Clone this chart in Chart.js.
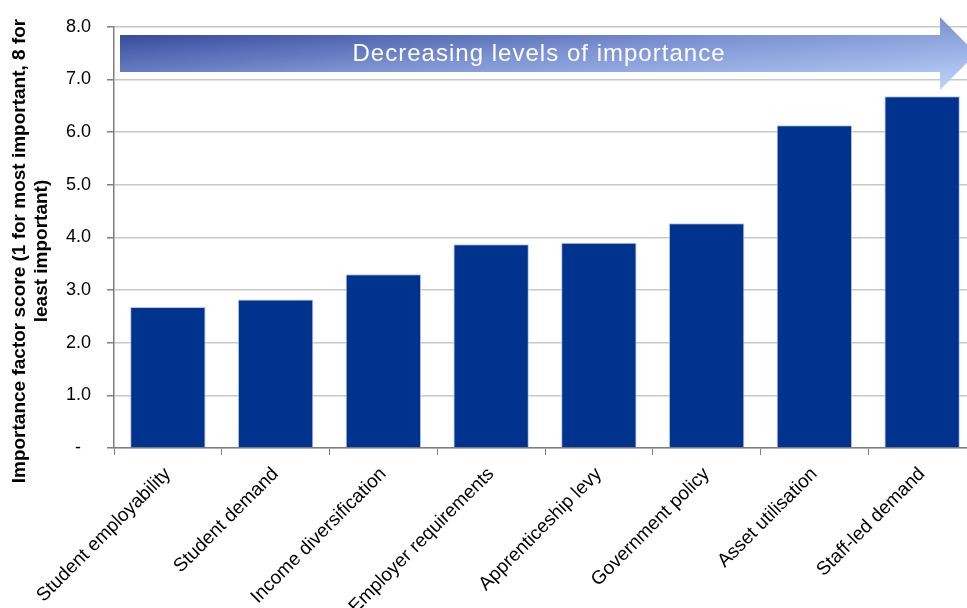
<!DOCTYPE html>
<html>
<head>
<meta charset="utf-8">
<script src="https://cdn.jsdelivr.net/npm/chart.js@4"></script>
<style>
  html, body { margin: 0; padding: 0; background: #fff; overflow: hidden; }
  #wrap { position: absolute; left: 0; top: 0; width: 980px; height: 608px; }
</style>
</head>
<body>
<div id="wrap"><canvas id="c" width="980" height="608"></canvas></div>
<script>
const categories = ['Student employability', 'Student demand', 'Income diversification', 'Employer requirements', 'Apprenticeship levy', 'Government policy', 'Asset utilisation', 'Staff-led demand'];
const scores = [2.68, 2.82, 3.30, 3.87, 3.90, 4.27, 6.13, 6.68];
const yTickLabels = ['-  ', '1.0', '2.0', '3.0', '4.0', '5.0', '6.0', '7.0', '8.0'];
const yTitle = ['Importance factor score (1 for most important, 8 for', 'least important)'];
const arrowText = 'Decreasing levels of importance';

const yTitlePlugin = {
  id: 'yTitle',
  afterDraw(chart) {
    const ctx = chart.ctx;
    ctx.save();
    ctx.translate(20, 251);
    ctx.rotate(-Math.PI / 2);
    ctx.font = 'bold 19px "Liberation Sans", Arial, sans-serif';
    ctx.fillStyle = '#000';
    ctx.textAlign = 'center';
    ctx.textBaseline = 'middle';
    yTitle.forEach((line, i) => ctx.fillText(line, 0, i * 22));
    ctx.restore();
  }
};

const arrowPlugin = {
  id: 'arrow',
  afterDraw(chart) {
    const ctx = chart.ctx;
    const x0 = 120, x1 = 940, tip = 976, top = 35, bot = 72, hTop = 17, hBot = 90;
    const W = tip - x0, H = hBot - hTop;
    const k = 2 / (1 / (W * W) + 1 / (H * H));
    const g = ctx.createLinearGradient(x0, hTop, x0 + k / W, hTop + k / H);
    g.addColorStop(0, '#1f358a');
    g.addColorStop(0.5, '#7d93d3');
    g.addColorStop(1, '#c0d6fb');
    ctx.save();
    ctx.beginPath();
    ctx.moveTo(x0, top);
    ctx.lineTo(x1, top);
    ctx.lineTo(x1, hTop);
    ctx.lineTo(tip, (hTop + hBot) / 2);
    ctx.lineTo(x1, hBot);
    ctx.lineTo(x1, bot);
    ctx.lineTo(x0, bot);
    ctx.closePath();
    ctx.fillStyle = g;
    ctx.fill();
    ctx.font = '24px "Liberation Sans", Arial, sans-serif';
    const target = 372;
    const w = ctx.measureText(arrowText).width;
    if ('letterSpacing' in ctx) {
      ctx.letterSpacing = ((target - w) / (arrowText.length - 1)).toFixed(2) + 'px';
    }
    ctx.fillStyle = '#ffffff';
    ctx.textAlign = 'center';
    ctx.textBaseline = 'middle';
    ctx.fillText(arrowText, 539, 54);
    ctx.restore();
  }
};

new Chart(document.getElementById('c'), {
  type: 'bar',
  data: {
    labels: categories,
    datasets: [{
      data: scores,
      backgroundColor: '#00338d',
      borderColor: '#b8c6e8',
      borderWidth: 1,
      categoryPercentage: 1.0,
      barPercentage: 0.7
    }]
  },
  options: {
    responsive: false,
    animation: false,
    devicePixelRatio: 1,
    layout: { padding: { top: 22, right: 4, left: 0, bottom: 0 } },
    plugins: { legend: { display: false }, tooltip: { enabled: false } },
    scales: {
      x: {
        afterFit(scale) { scale.height = 160; },
        grid: { drawOnChartArea: false, drawTicks: true, tickLength: 7, color: '#7f7f7f', lineWidth: 1 },
        border: { color: '#7f7f7f', width: 1.5 },
        ticks: {
          autoSkip: false,
          maxRotation: 45,
          minRotation: 45,
          padding: 8,
          color: '#000',
          font: { family: '"Liberation Sans", Arial, sans-serif', size: 19 }
        }
      },
      y: {
        min: 0,
        max: 8,
        afterFit(scale) { scale.width = 114; },
        grid: { color: '#c8c8c8', lineWidth: 1.5, drawTicks: true, tickLength: 7, tickColor: '#7f7f7f' },
        border: { color: '#7f7f7f', width: 1.5 },
        ticks: {
          stepSize: 1,
          padding: 16,
          color: '#000',
          font: { family: '"Liberation Sans", Arial, sans-serif', size: 18 },
          callback(value) { return yTickLabels[Math.round(value)]; }
        },
        title: { display: false }
      }
    }
  },
  plugins: [arrowPlugin, yTitlePlugin]
});
</script>
</body>
</html>
